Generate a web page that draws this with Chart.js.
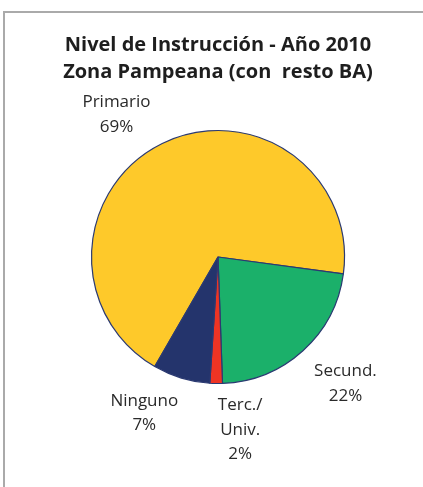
<!DOCTYPE html>
<html>
<head>
<meta charset="utf-8">
<script src="https://cdn.jsdelivr.net/npm/chart.js@4"></script>
<style>
  body { margin: 0; background: #fff; }
  #wrap { position: relative; width: 423px; height: 487px; }
  #frame { position: absolute; left: 3px; top: 11px; right: 0; bottom: 0;
           border-left: 2px solid #aaaaaa; border-top: 2px solid #aaaaaa; }
  canvas { position: absolute; left: 0; top: 0; }
</style>
</head>
<body>
<div id="wrap">
  <div id="frame"></div>
  <canvas id="chart" width="423" height="487"></canvas>
</div>
<script>
// data (share of population, %)
const categories = ["Primario", "Secund.", "Terc./\nUniv.", "Ninguno"];
const shares = [68.8, 22.3, 1.6, 7.3];
const sliceColors = ["#FEC92A", "#1BB06A", "#EE3424", "#24346C"];

const titleLines = ["Nivel de Instrucción - Año 2010", "Zona Pampeana (con  resto BA)"];

// excel-style outside labels: name + rounded percent
const outsideLabels = {
  id: "outsideLabels",
  afterDatasetsDraw(chart, args, opts) {
    const ctx = chart.ctx;
    const meta = chart.getDatasetMeta(0);
    const total = shares.reduce((a, b) => a + b, 0);
    ctx.save();
    ctx.font = opts.font;
    ctx.fillStyle = opts.color;
    ctx.textAlign = "center";
    ctx.textBaseline = "middle";
    meta.data.forEach((arc, i) => {
      const p = arc.getProps(["x", "y", "startAngle", "endAngle", "outerRadius"], true);
      const mid = (p.startAngle + p.endAngle) / 2;
      const r = p.outerRadius + opts.gap;
      const nudge = opts.nudges[i] || [0, 0];
      const cx = p.x + Math.cos(mid) * r + nudge[0];
      const cy = p.y + Math.sin(mid) * r + nudge[1];
      const lines = categories[i].split("\n");
      lines.push(Math.round(shares[i] / total * 100) + "%");
      const top = cy - (lines.length - 1) * opts.lineHeight / 2;
      lines.forEach((t, j) => ctx.fillText(t, cx, top + j * opts.lineHeight));
    });
    ctx.restore();
  }
};

const chart = new Chart(document.getElementById("chart"), {
  type: "pie",
  data: {
    labels: categories,
    datasets: [{
      data: shares,
      backgroundColor: sliceColors,
      borderColor: "#2B3A72",
      borderWidth: 1.2
    }]
  },
  options: {
    responsive: false,
    animation: false,
    rotation: 210,
    radius: 126.5,
    layout: { padding: { left: 13, right: 0, top: 0, bottom: 103 } },
    plugins: {
      legend: { display: false },
      tooltip: { enabled: false },
      title: {
        display: true,
        text: titleLines,
        color: "#1e1e1e",
        font: { family: "'Open Sans'", size: 20, weight: "bold", lineHeight: 1.35 },
        padding: { top: 31.5, bottom: 44.5 }
      },
      outsideLabels: {
        font: "17px 'Open Sans'",
        color: "#2a2a2a",
        gap: 38,
        lineHeight: 24.5,
        nudges: [[-29, 5.5], [17, 5], [24.6, 8.5], [-26, -1.5]]
      }
    }
  },
  plugins: [outsideLabels]
});
</script>
</body>
</html>
